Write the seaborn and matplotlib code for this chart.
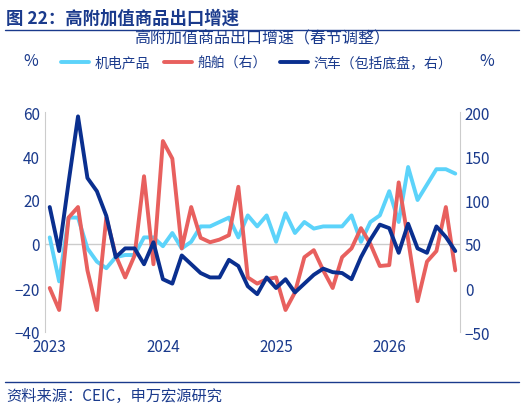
import matplotlib.pyplot as plt
import numpy as np
import pandas as pd
import seaborn as sns

sns.set_style("white")
plt.rcParams['font.family'] = ['Noto Sans CJK SC', 'DejaVu Sans']

years = ["2023", "2024", "2025", "2026"]
# 机电产品 (left axis, %)
electro = [3, -17, 12, 12, -2, -8, -11, -6, -5, -5, 3, 3, -1, 5, -2, 1, 8, 8, 10, 12, 3, 13, 8, 13,
           1, 14, 5, 10, 7, 8, 8, 8, 13, 1, 10, 13, 24, 10, 35, 20, 27, 34, 34, 32]
# 船舶 (right axis, %)
ships = [0, -25, 80, 92, 20, -25, 80, 37, 12, 37, 127, 27, 167, 147, 45, 92, 57, 52, 55, 60, 115, 12, 5, 10,
         12, -25, -5, 35, 43, 20, 0, 35, 45, 68, 50, 25, 26, 120, 55, -15, 30, 42, 92, 20]
# 汽车（包括底盘） (right axis, %)
autos = [92, 42, 120, 195, 125, 110, 82, 35, 45, 45, 27, 52, 10, 5, 37, 27, 17, 12, 12, 32, 25, 2, -7, 12,
         0, 10, -5, 5, 15, 22, 18, 17, 10, 35, 55, 72, 68, 40, 73, 45, 40, 70, 58, 42]

df = pd.DataFrame({"m": np.arange(len(electro)), "electro": electro, "ships": ships, "autos": autos})

c_lb, c_red, c_db = "#5CD3FA", "#E8605E", "#0A2F8F"
tc = "#1A3A8C"

fig = plt.figure(figsize=(5.24, 4.1), dpi=100)
ax = fig.add_axes([45/524, 1-333/410, 415/524, 220/410])
ax2 = ax.twinx()
sns.lineplot(data=df, x="m", y="electro", ax=ax, color=c_lb, lw=2.8)
sns.lineplot(data=df, x="m", y="ships", ax=ax2, color=c_red, lw=2.8)
sns.lineplot(data=df, x="m", y="autos", ax=ax2, color=c_db, lw=2.8)
ax.axhline(0, color="#cccccc", lw=1, zorder=0)
ax.set_ylim(-40, 60)
ax2.set_ylim(-50, 200)
ax.set_yticks(range(-40, 61, 20))
ax2.set_yticks(range(-50, 201, 50))
ax.set_xlim(-0.5, len(electro) - 0.5)
ax.set_xticks([0, 12, 24, 36])
ax.set_xticklabels(years)
for a in (ax, ax2):
    a.set_xlabel("")
    a.set_ylabel("")
    for s in a.spines.values():
        s.set_visible(False)
    a.tick_params(colors=tc, labelsize=11, length=0)
ax.spines["left"].set_visible(True)
ax.spines["left"].set_color("#cccccc")
ax2.spines["right"].set_visible(True)
ax2.spines["right"].set_color("#cccccc")
ax.tick_params(axis="x", pad=4)

fig.text(0.012, 0.955, "图 22：高附加值商品出口增速", fontsize=12.5, weight="bold", color=tc, va="center")
fig.add_artist(plt.Line2D([0.01, 0.99], [0.925, 0.925], color=tc, lw=1))
fig.text(0.5, 0.905, "高附加值商品出口增速（春节调整）", fontsize=11.5, color=tc, ha="center", va="center")
fig.text(0.045, 0.85, "%", fontsize=11.5, color=tc, va="center")
fig.text(0.915, 0.85, "%", fontsize=11.5, color=tc, va="center")
handles = [plt.Line2D([], [], color=c, lw=2.8) for c in (c_lb, c_red, c_db)]
fig.legend(handles, ["机电产品", "船舶（右）", "汽车（包括底盘，右）"], loc="center",
           bbox_to_anchor=(0.49, 0.845), ncol=3, frameon=False, fontsize=10,
           labelcolor=tc, handlelength=2.0, columnspacing=1.0, handletextpad=0.4)
fig.add_artist(plt.Line2D([0.01, 0.99], [0.065, 0.065], color=tc, lw=1))
fig.text(0.012, 0.033, "资料来源：CEIC，申万宏源研究", fontsize=11, color=tc, va="center")

fig.savefig("out.png", dpi=100)
